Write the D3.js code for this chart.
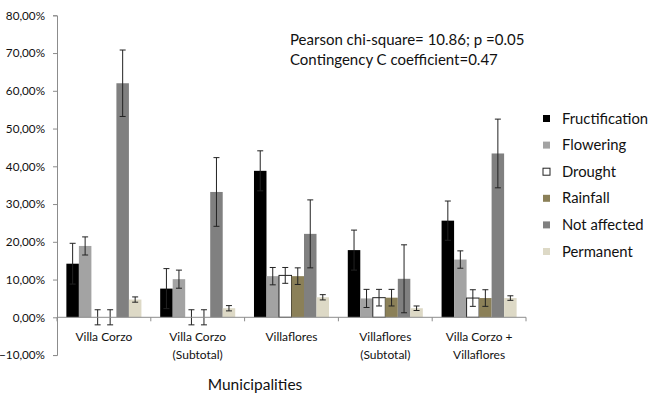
<!DOCTYPE html>
<html>
<head>
<meta charset="utf-8">
<script src="https://cdn.jsdelivr.net/npm/d3@7"></script>
<style>
  body { margin: 0; background: #fff; }
  svg { display: block; }
</style>
</head>
<body>
<svg id="chart" width="655" height="397"></svg>
<script>
// categories, each label broken in lines as in the figure
var categories = ["Villa Corzo", "Villa Corzo (Subtotal)", "Villaflores", "Villaflores (Subtotal)", "Villa Corzo + Villaflores"];
var categoryLines = [["Villa Corzo"], ["Villa Corzo", "(Subtotal)"], ["Villaflores"], ["Villaflores", "(Subtotal)"], ["Villa Corzo +", "Villaflores"]];

var seriesNames = ["Fructification", "Flowering", "Drought", "Rainfall", "Not affected", "Permanent"];

// percentages, one per category
var fructification = [14.2, 7.6, 38.8, 17.8, 25.6];
var flowering      = [18.9, 10.1, 10.9, 5.0, 15.3];
var drought        = [0, 0, 11.1, 5.2, 5.1];
var rainfall       = [0, 0, 10.9, 5.2, 5.1];
var notAffected    = [62.0, 33.2, 22.1, 10.2, 43.4];
var permanent      = [4.7, 2.4, 5.3, 2.4, 5.1];

// error bar half widths
var fructificationErr = [5.4, 5.3, 5.3, 5.3, 5.2];
var floweringErr      = [2.4, 2.4, 2.3, 2.4, 2.3];
var droughtErr        = [2.0, 2.0, 2.1, 2.2, 2.2];
var rainfallErr       = [2.0, 2.0, 2.2, 2.2, 2.2];
var notAffectedErr    = [8.8, 9.1, 9.0, 9.0, 9.1];
var permanentErr      = [0.7, 0.7, 0.7, 0.6, 0.6];

var yTicks = [-10, 0, 10, 20, 30, 40, 50, 60, 70, 80];

var statLines = ["Pearson chi-square= 10.86; p =0.05", "Contingency C coefficient=0.47"];
var axisTitle = "Municipalities";

var values = [fructification, flowering, drought, rainfall, notAffected, permanent];
var errors = [fructificationErr, floweringErr, droughtErr, rainfallErr, notAffectedErr, permanentErr];
var fills  = ["#000000", "#a3a3a3", "#ffffff", "#8b8058", "#808080", "#ddd9c6"];
var strokes = ["none", "none", "#222", "none", "none", "none"];

var FONT = "Lato, 'Open Sans', sans-serif";
var AXIS_COLOR = "#8c8c8c";
var TEXT_COLOR = "#111";

var svg = d3.select("#chart");

var plotLeft = 57, plotRight = 526;

var y = d3.scaleLinear().domain([-10, 80]).range([355.05, 15.3]);

var x0 = d3.scaleBand().domain(categories).range([plotLeft, plotRight]).padding(0);
var x1 = d3.scaleBand().domain(seriesNames).range([0, x0.bandwidth()])
	.paddingInner(0).paddingOuter(0.75);

var fmt = function(v) { return d3.format(".2f")(v).replace(".", ",") + "%"; };

// y axis
var yAxis = svg.append("g")
	.attr("transform", "translate(" + plotLeft + ",0)")
	.call(d3.axisLeft(y).tickValues(yTicks).tickFormat(fmt).tickSizeOuter(0).tickSize(4).tickPadding(8));
yAxis.select(".domain").attr("stroke", AXIS_COLOR);
yAxis.selectAll(".tick line").attr("stroke", AXIS_COLOR);
yAxis.selectAll("text")
	.attr("fill", TEXT_COLOR)
	.style("font-family", FONT)
	.style("font-size", "11.7px");

// bars
var groups = svg.append("g").selectAll("g")
	.data(categories)
	.enter().append("g")
	.attr("transform", function(c) { return "translate(" + x0(c) + ",0)"; });

groups.each(function(c, ci) {
	var g = d3.select(this);
	for(var s = 0; s < seriesNames.length; s++) {
		var v = values[s][ci];
		var bx = x1(seriesNames[s]);
		var bw = x1.bandwidth();
		g.append("rect")
			.attr("x", bx)
			.attr("y", y(Math.max(v, 0)))
			.attr("width", bw)
			.attr("height", Math.abs(y(v) - y(0)))
			.attr("fill", fills[s])
			.attr("stroke", strokes[s])
			.attr("stroke-width", 1);
	}
});

// x axis line and category separators
svg.append("line")
	.attr("x1", plotLeft).attr("x2", plotRight)
	.attr("y1", y(0)).attr("y2", y(0))
	.attr("stroke", AXIS_COLOR);

var seps = categories.map(function(c) { return x0(c); }).concat([plotRight]);
svg.append("g").selectAll("line")
	.data(seps)
	.enter().append("line")
	.attr("x1", function(d) { return d; }).attr("x2", function(d) { return d; })
	.attr("y1", y(0)).attr("y2", y(0) + 4)
	.attr("stroke", AXIS_COLOR);

// error bars
groups.each(function(c, ci) {
	var g = d3.select(this);
	for(var s = 0; s < seriesNames.length; s++) {
		var v = values[s][ci], e = errors[s][ci];
		var cx = x1(seriesNames[s]) + x1.bandwidth() / 2;
		var top = y(v + e), bot = y(v - e);
		g.append("line")
			.attr("x1", cx).attr("x2", cx).attr("y1", top).attr("y2", bot)
			.attr("stroke", "#222").attr("stroke-width", 1);
		[top, bot].forEach(function(yy) {
			g.append("line")
				.attr("x1", cx - 3).attr("x2", cx + 3).attr("y1", yy).attr("y2", yy)
				.attr("stroke", "#222").attr("stroke-width", 1);
		});
	}
});

// category labels
svg.append("g").selectAll("text")
	.data(categories)
	.enter().append("text")
	.attr("x", function(c) { return x0(c) + x0.bandwidth() / 2; })
	.attr("y", 341)
	.attr("text-anchor", "middle")
	.attr("fill", TEXT_COLOR)
	.style("font-family", FONT)
	.style("font-size", "12px")
	.each(function(c, i) {
		var t = d3.select(this);
		categoryLines[i].forEach(function(line, li) {
			t.append("tspan")
				.attr("x", x0(c) + x0.bandwidth() / 2)
				.attr("dy", li === 0 ? 0 : 18)
				.text(line);
		});
	});

// axis title
svg.append("text")
	.attr("x", 255).attr("y", 390)
	.attr("text-anchor", "middle")
	.attr("fill", TEXT_COLOR)
	.style("font-family", FONT)
	.style("font-size", "15.5px")
	.text(axisTitle);

// stats note
svg.append("g").selectAll("text")
	.data(statLines)
	.enter().append("text")
	.attr("x", 290)
	.attr("y", function(d, i) { return 44.5 + i * 20; })
	.attr("fill", TEXT_COLOR)
	.style("font-family", FONT)
	.style("font-size", "15px")
	.text(function(d) { return d; });

// legend
var legend = svg.append("g").selectAll("g")
	.data(seriesNames)
	.enter().append("g")
	.attr("transform", function(d, i) { return "translate(543," + (118.5 + i * 26.6) + ")"; });

legend.append("rect")
	.attr("x", 0).attr("y", -3.5)
	.attr("width", 7).attr("height", 7)
	.attr("fill", function(d, i) { return fills[i]; })
	.attr("stroke", function(d, i) { return i === 2 ? "#222" : "none"; });

legend.append("text")
	.attr("x", 19).attr("y", 0)
	.attr("dy", "0.35em")
	.attr("fill", TEXT_COLOR)
	.style("font-family", FONT)
	.style("font-size", "14.8px")
	.text(function(d) { return d; });
</script>
</body>
</html>
